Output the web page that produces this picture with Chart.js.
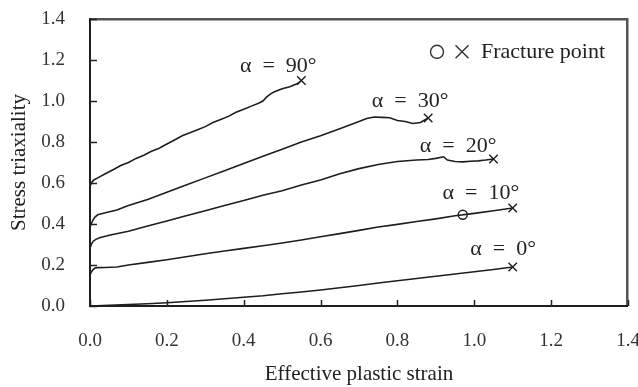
<!DOCTYPE html>
<html>
<head>
<meta charset="utf-8">
<script src="https://cdn.jsdelivr.net/npm/chart.js@4/dist/chart.umd.min.js"></script>
<style>
  html, body { margin: 0; padding: 0; background: #fff; }
  canvas { display: block; }
</style>
</head>
<body>
<canvas id="chart" width="638" height="387"></canvas>
<script>
// Stress triaxiality vs. effective plastic strain for five loading angles
const strain90 = [0, 0.003, 0.01, 0.02, 0.04, 0.06, 0.08, 0.1, 0.12, 0.14, 0.16, 0.18, 0.2, 0.22, 0.24, 0.26, 0.28, 0.3, 0.32, 0.34, 0.36, 0.38, 0.4, 0.42, 0.44, 0.45, 0.46, 0.47, 0.48, 0.5, 0.52, 0.54, 0.55];
const triax90  = [0.58, 0.60, 0.615, 0.625, 0.645, 0.665, 0.685, 0.70, 0.72, 0.735, 0.755, 0.77, 0.79, 0.81, 0.83, 0.845, 0.86, 0.875, 0.895, 0.91, 0.925, 0.945, 0.96, 0.975, 0.99, 1.00, 1.02, 1.035, 1.045, 1.06, 1.07, 1.085, 1.10];

const strain30 = [0, 0.003, 0.008, 0.013, 0.02, 0.04, 0.07, 0.1, 0.15, 0.2, 0.25, 0.3, 0.35, 0.4, 0.45, 0.5, 0.55, 0.6, 0.65, 0.7, 0.72, 0.74, 0.76, 0.78, 0.8, 0.82, 0.84, 0.86, 0.88];
const triax30  = [0.385, 0.40, 0.42, 0.434, 0.445, 0.455, 0.468, 0.49, 0.52, 0.555, 0.59, 0.625, 0.66, 0.695, 0.73, 0.765, 0.80, 0.83, 0.865, 0.90, 0.915, 0.922, 0.92, 0.918, 0.905, 0.90, 0.89, 0.895, 0.917];

const strain20 = [0, 0.003, 0.008, 0.015, 0.025, 0.05, 0.1, 0.15, 0.2, 0.25, 0.3, 0.35, 0.4, 0.45, 0.5, 0.55, 0.6, 0.65, 0.7, 0.75, 0.8, 0.85, 0.88, 0.9, 0.92, 0.93, 0.95, 0.97, 0.99, 1.01, 1.03, 1.05];
const triax20  = [0.28, 0.30, 0.315, 0.325, 0.333, 0.345, 0.365, 0.39, 0.415, 0.44, 0.465, 0.49, 0.515, 0.54, 0.562, 0.59, 0.615, 0.645, 0.67, 0.69, 0.705, 0.712, 0.715, 0.72, 0.728, 0.712, 0.705, 0.703, 0.706, 0.708, 0.712, 0.717];

const strain10 = [0, 0.003, 0.008, 0.013, 0.02, 0.04, 0.07, 0.1, 0.15, 0.2, 0.25, 0.3, 0.35, 0.4, 0.45, 0.5, 0.55, 0.6, 0.65, 0.7, 0.75, 0.8, 0.85, 0.9, 0.95, 1.0, 1.05, 1.1];
const triax10  = [0.15, 0.165, 0.178, 0.185, 0.187, 0.188, 0.19, 0.2, 0.213, 0.226, 0.24, 0.255, 0.268, 0.281, 0.294, 0.307, 0.322, 0.338, 0.353, 0.369, 0.385, 0.398, 0.412, 0.425, 0.44, 0.452, 0.465, 0.478];

const strain0 = [0, 0.05, 0.1, 0.15, 0.2, 0.25, 0.3, 0.35, 0.4, 0.45, 0.5, 0.55, 0.6, 0.65, 0.7, 0.75, 0.8, 0.85, 0.9, 0.95, 1.0, 1.05, 1.1];
const triax0  = [0, 0.003, 0.007, 0.011, 0.016, 0.022, 0.028, 0.035, 0.043, 0.05, 0.06, 0.068, 0.078, 0.089, 0.1, 0.112, 0.123, 0.134, 0.145, 0.156, 0.167, 0.178, 0.19];

// Fracture point marked with a circle on the 10° curve
const circleStrain = [0.97];
const circleTriax  = [0.445];

const curveLabels = ['α = 90°', 'α = 30°', 'α = 20°', 'α = 10°', 'α = 0°'];
const tickValues = [0, 0.2, 0.4, 0.6, 0.8, 1.0, 1.2, 1.4];

const SERIF = '"Liberation Serif", "Times New Roman", serif';
const INK = '#1e1e1e';

function pairs(xs, ys) { return xs.map((x, i) => ({ x: x, y: ys[i] })); }

function curve(label, xs, ys) {
  const last = xs.length - 1;
  return {
    label: label,
    data: pairs(xs, ys),
    showLine: true,
    borderColor: INK,
    borderWidth: 1.6,
    tension: 0,
    pointStyle: 'crossRot',
    pointRadius: ctx => (ctx.dataIndex === last ? 6 : 0),
    pointBorderColor: INK,
    pointBorderWidth: 1.4,
    pointHoverRadius: 0
  };
}

// Where each curve's name is written (data coordinates)
const labelSpots = [
  { x: 0.49, y: 1.17 },
  { x: 0.833, y: 1.0 },
  { x: 0.958, y: 0.78 },
  { x: 1.017, y: 0.55 },
  { x: 1.075, y: 0.278 }
];

const decorations = {
  id: 'decorations',
  afterDraw(chart) {
    const { ctx, scales: { x, y } } = chart;
    const L = Math.round(x.getPixelForValue(0)), R = Math.round(x.getPixelForValue(1.4)) - 1;
    const T = Math.round(y.getPixelForValue(1.4)), B = Math.round(y.getPixelForValue(0));
    ctx.save();

    // frame: grey top and right edges
    ctx.fillStyle = '#555';
    ctx.fillRect(L, T - 1, R - L + 1, 2.5);
    ctx.fillRect(R - 1, T - 1, 2.5, B - T + 1);
    // dark left and bottom axes
    ctx.fillStyle = '#1e1e1e';
    ctx.fillRect(L - 1, T - 1, 2, B - T + 2);
    ctx.fillRect(L - 1, B - 1, R - L + 2, 2);

    // inward tick marks
    ctx.strokeStyle = '#222';
    ctx.lineWidth = 1.5;
    ctx.beginPath();
    tickValues.forEach(v => {
      const py = Math.round(y.getPixelForValue(v)) + 0.5;
      ctx.moveTo(L, py); ctx.lineTo(L + 7, py);
      const px = Math.round(x.getPixelForValue(v)) + 0.5;
      ctx.moveTo(px, B); ctx.lineTo(px, B - 6);
    });
    ctx.stroke();

    // curve names (wider spacing around the equals sign)
    ctx.fillStyle = '#222';
    ctx.font = '22px ' + SERIF;
    ctx.textAlign = 'center';
    ctx.textBaseline = 'middle';
    curveLabels.forEach((t, i) => {
      ctx.fillText(t.replace(/ /g, '\u2002'), x.getPixelForValue(labelSpots[i].x), y.getPixelForValue(labelSpots[i].y));
    });

    // key: circle, cross, text
    const kx = x.getPixelForValue(0.903), ky = y.getPixelForValue(1.24);
    ctx.lineWidth = 1.4;
    ctx.strokeStyle = '#333';
    ctx.beginPath();
    ctx.arc(kx, ky, 6.5, 0, Math.PI * 2);
    ctx.stroke();
    const cx = kx + 25, s = 6.5;
    ctx.beginPath();
    ctx.moveTo(cx - s, ky - s); ctx.lineTo(cx + s, ky + s);
    ctx.moveTo(cx - s, ky + s); ctx.lineTo(cx + s, ky - s);
    ctx.stroke();
    ctx.textAlign = 'left';
    ctx.font = '22px ' + SERIF;
    ctx.fillText('Fracture point', cx + 19, ky);

    ctx.restore();
  }
};

new Chart(document.getElementById('chart'), {
  type: 'scatter',
  data: {
    datasets: [
      curve('90', strain90, triax90),
      curve('30', strain30, triax30),
      curve('20', strain20, triax20),
      curve('10', strain10, triax10),
      curve('0', strain0, triax0),
      {
        label: 'circle',
        data: pairs(circleStrain, circleTriax),
        showLine: false,
        pointStyle: 'circle',
        pointRadius: 4.5,
        pointBackgroundColor: 'rgba(0,0,0,0)',
        pointBorderColor: INK,
        pointBorderWidth: 1.4,
        pointHoverRadius: 0
      }
    ]
  },
  options: {
    responsive: false,
    animation: false,
    events: [],
    layout: { padding: { top: 19, right: 10, left: 0, bottom: 0 } },
    plugins: { legend: { display: false }, tooltip: { enabled: false } },
    scales: {
      x: {
        type: 'linear',
        min: 0, max: 1.4,
        grid: { display: false },
        border: { display: false },
        ticks: {
          stepSize: 0.2,
          padding: 16,
          color: '#333',
          font: { family: SERIF, size: 19 },
          callback: v => v.toFixed(1)
        },
        title: {
          display: true,
          text: 'Effective plastic strain',
          color: '#222',
          font: { family: SERIF, size: 21 },
          padding: { top: 0, bottom: 0 }
        },
        afterFit: s => { s.height = 81; s.paddingLeft = 0; s.paddingRight = 0; }
      },
      y: {
        type: 'linear',
        min: 0, max: 1.4,
        grid: { display: false },
        border: { display: false },
        ticks: {
          stepSize: 0.2,
          padding: 17,
          color: '#333',
          font: { family: SERIF, size: 19 },
          callback: v => v.toFixed(1)
        },
        title: {
          display: true,
          text: 'Stress triaxiality',
          color: '#222',
          font: { family: SERIF, size: 21 },
          padding: { top: 7, bottom: 0 }
        },
        afterFit: s => { s.width = 90; s.paddingTop = 0; s.paddingBottom = 0; }
      }
    }
  },
  plugins: [decorations]
});
</script>
</body>
</html>
